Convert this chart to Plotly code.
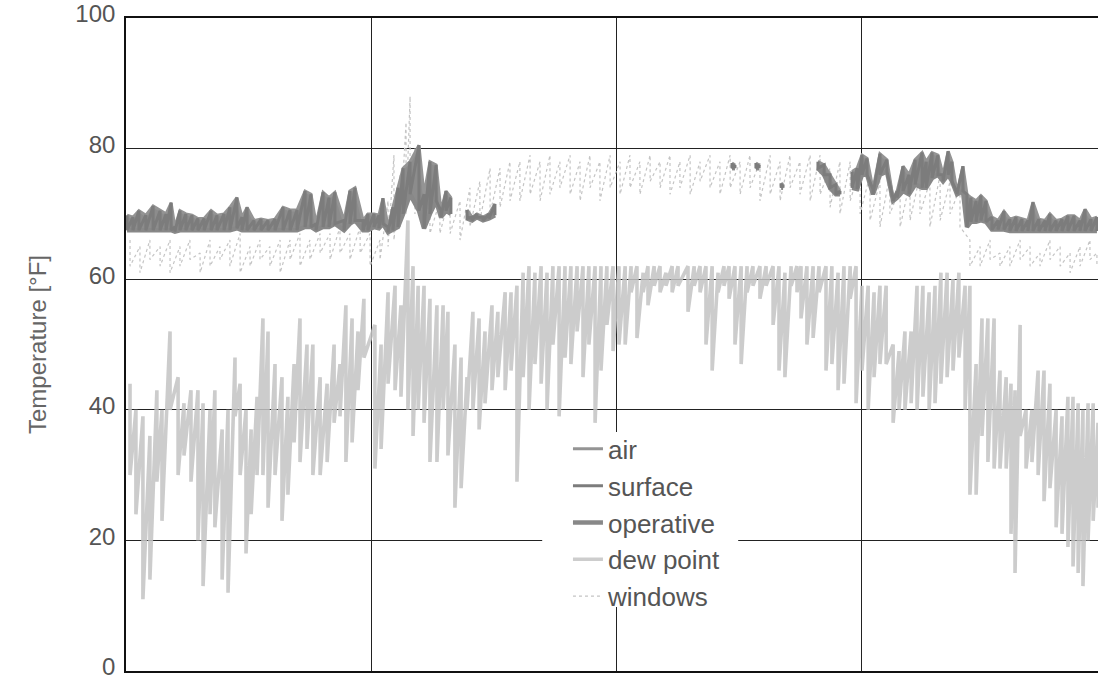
import plotly.graph_objects as go

# ---------------- data (day of year, values in degF) ----------------
dew_days = [1.5, 3.7, 6.3, 8.9, 11.5, 13.4, 16.4, 19.4, 21.6, 24.2, 26.8, 28.7, 31.3, 33.1, 35.8, 38.0,
            40.6, 42.5, 44.7, 46.6, 48.8, 51.0, 52.9, 55.5, 58.1, 60.3, 62.6, 64.8, 67.4, 69.6, 72.3,
            74.9, 77.5, 79.7, 81.9, 84.2, 86.4, 88.6,
            92.7, 95.0, 97.6, 100.2, 102.4, 105.0, 106.9, 108.8, 111.0, 113.2, 115.8, 118.1, 119.9,
            122.5, 124.8, 127.0, 129.2, 131.5, 133.7, 136.3, 138.5, 141.2, 143.4, 145.6, 147.9, 150.1,
            152.3, 154.6, 156.8, 159.0, 161.3, 163.5, 165.7, 168.0, 170.2, 172.4, 174.7, 176.9, 179.1, 181.4,
            183.6, 185.9, 188.1, 190.3, 192.6, 194.4, 196.7, 198.9, 201.1, 203.4, 205.6, 209.3, 211.6,
            213.8, 216.0, 218.3, 220.5, 222.7, 224.6, 226.8, 229.1, 231.3, 233.5, 236.1, 238.4, 241.0,
            243.2, 245.4, 247.7, 249.9, 251.4, 253.6, 255.9, 258.1, 260.7, 262.9, 265.2, 267.4, 269.7, 271.9,
            274.1, 276.4, 278.6, 280.8, 283.1, 285.7, 287.9, 290.1, 292.4, 294.6, 296.8, 299.1, 301.3,
            303.5, 305.8, 308.0, 310.2, 312.5, 314.3, 316.6, 318.8, 321.0, 323.3, 325.5, 327.8, 329.6,
            331.1, 333.0, 335.2, 337.4, 339.7, 341.9, 344.1, 346.4, 348.6, 350.8, 352.7, 354.6, 356.4,
            358.3, 360.2, 362.0]
dew_hi = [44, 40, 39, 36, 43, 40, 52, 45, 41, 43, 43, 41, 40, 43, 37, 40,
          48, 44, 40, 37, 42, 54, 52, 47, 45, 42, 47, 54, 50, 50, 45,
          44, 50, 47, 56, 54, 52, 57,
          53, 50, 58, 59, 56, 69, 62, 59, 59, 57, 56, 56, 55,
          50, 48, 45, 55, 54, 52, 56, 55, 58, 58, 59, 61, 62,
          61, 62, 61, 62, 62, 62, 62, 62, 62, 62, 62, 62, 62, 62,
          62, 62, 62, 62, 61, 62, 62, 62, 61, 62, 62, 62, 62,
          62, 62, 62, 61, 62, 62, 62, 62, 62, 62, 62, 62, 62,
          62, 61, 62, 62, 62, 62, 62, 62, 62, 62, 61, 62, 62, 62,
          59, 59, 58, 59, 59, 50, 49, 52, 52, 59, 59, 58, 59,
          61, 61, 60, 61, 59, 59, 47, 54, 54, 54, 46, 45, 44,
          43, 53, 40, 40, 46, 46, 44, 40, 39, 42, 42, 41, 40,
          41, 41, 38]
dew_lo = [30, 24, 11, 14, 29, 23, 40, 30, 33, 29, 20, 13, 24, 22, 14, 12,
          39, 30, 18, 24, 30, 30, 25, 30, 23, 27, 35, 32, 34, 30, 30,
          32, 38, 39, 32, 35, 43, 48,
          31, 34, 44, 43, 42, 40, 36, 40, 38, 32, 32, 40, 33,
          25, 28, 40, 40, 37, 41, 43, 45, 43, 46, 29, 45, 40,
          47, 44, 40, 50, 39, 48, 47, 52, 45, 50, 38, 46, 53, 49,
          50, 50, 58, 51, 58, 56, 59, 58, 59, 58, 59, 55, 59,
          58, 50, 46, 58, 59, 57, 50, 47, 58, 59, 57, 59, 53,
          46, 45, 59, 58, 54, 50, 51, 58, 46, 47, 43, 44, 57, 41,
          46, 40, 45, 47, 47, 38, 40, 40, 41, 40, 42, 40, 41,
          44, 45, 46, 48, 40, 27, 27, 36, 32, 31, 31, 31, 21,
          15, 36, 31, 32, 30, 26, 28, 22, 21, 19, 16, 15, 13,
          20, 23, 25]

band_days = [0.4, 2.6, 4.8, 7.4, 10.1, 12.7, 14.9, 16.8, 18.2, 20.1, 22.3, 24.6, 26.8, 29.1, 31.7,
             33.9, 36.5, 38.7, 41.3, 43.2, 45.1, 47.7, 50.3, 52.9, 55.5, 58.5, 61.1, 63.7, 66.7, 68.9,
             70.8, 73.4, 75.6, 77.8, 81.2, 83.4, 85.3, 88.3, 90.1, 92.4, 94.2, 95.7, 97.6, 99.4, 101.3,
             103.2, 105.8, 109.1, 111.0, 113.2, 115.5, 117.3, 119.2, 121.0, 123.7, 127.0, 128.9, 130.7,
             133.0, 135.2, 137.4, 140.0, 225.7, 226.8, 228.0, 234.6, 235.8, 237.0, 244.0, 244.7, 246.0,
             257.7, 260.0, 262.2, 264.4, 265.9, 267.0, 270.4, 272.3, 274.1, 276.0, 278.2, 280.8, 283.4,
             285.7, 287.2, 289.4, 291.6, 293.9, 296.5, 298.0, 300.2, 302.4, 304.3, 306.2, 307.6, 309.5,
             311.7, 313.2, 314.7, 316.6, 318.4, 320.3, 322.5, 324.8, 327.0, 329.2, 331.5, 333.7, 335.9,
             337.8, 340.0, 342.3, 344.1, 346.4, 348.6, 350.8, 353.1, 355.3, 357.2, 359.4, 361.6]
band_hi = [69.8, 69.5, 70.5, 69.8, 71.2, 70.5, 70.0, 71.7, 68.0, 70.5, 70.0, 69.8, 69.3, 69.3, 70.5,
           69.8, 70.0, 71.0, 72.5, 69.5, 71.0, 69.0, 69.2, 69.0, 69.2, 71.0, 70.6, 70.6, 73.5, 73.0,
           68.5, 73.3, 72.5, 73.3, 69.0, 73.5, 74.0, 69.0, 70.0, 70.0, 69.8, 72.4, 68.0, 71.0, 74.0,
           77.0, 78.0, 80.5, 73.0, 78.0, 77.5, 70.5, 73.5, 72.5, None, 70.6, 69.5, 70.0,
           69.5, 70.0, 71.5, None, 77.8, 77.5, None, 77.8, 77.5, None, 74.7, 74.5, None,
           78.0, 77.5, 76.0, 74.5, 73.5, None, 76.5, 77.0, 79.0, 78.5, 73.8, 79.2, 78.3,
           72.3, 73.5, 77.3, 76.0, 78.3, 79.4, 78.0, 79.4, 79.0, 76.0, 79.6, 78.0, 73.3,
           77.3, 73.0, 72.5, 72.0, 72.8, 72.0, 69.5, 69.0, 70.4, 69.2, 69.5, 69.2, 69.0,
           71.8, 69.2, 69.0, 70.0, 69.0, 69.2, 69.7, 69.7, 69.0, 70.7, 69.2, 69.5]
band_lo = [67.5, 67.5, 67.5, 67.5, 67.5, 67.5, 67.5, 67.5, 67.3, 67.5, 67.5, 67.5, 67.5, 67.5, 67.5,
           67.5, 67.5, 67.5, 67.8, 67.5, 67.5, 67.5, 67.5, 67.5, 67.5, 67.5, 67.5, 67.5, 68.0, 68.0,
           67.5, 68.0, 68.0, 68.5, 67.5, 68.5, 69.0, 67.5, 67.5, 68.0, 67.8, 68.5, 67.2, 67.5, 68.0,
           70.0, 73.0, 70.5, 67.8, 70.0, 72.0, 69.5, 70.5, 70.0, None, 69.3, 69.0, 69.5,
           69.0, 69.3, 69.8, None, 77.0, 77.0, None, 77.0, 77.0, None, 74.0, 74.0, None,
           77.0, 76.0, 74.0, 73.0, 73.0, None, 74.0, 73.8, 76.0, 76.0, 73.0, 76.0, 76.5,
           72.0, 72.5, 73.5, 73.0, 74.5, 74.0, 74.0, 75.5, 76.0, 75.0, 76.0, 75.0, 73.0,
           73.5, 68.0, 68.8, 68.8, 69.0, 68.8, 67.6, 67.6, 67.6, 67.4, 67.4, 67.4, 67.4,
           67.4, 67.4, 67.4, 67.4, 67.4, 67.4, 67.4, 67.4, 67.4, 67.4, 67.4, 67.4]

win_days = [1.5, 5.2, 8.9, 12.7, 16.4, 20.1, 23.8, 27.6, 31.3, 35.0, 38.7, 42.5, 46.2, 49.9, 53.6,
            57.4, 61.1, 64.8, 68.5, 72.3, 76.0, 79.7, 83.4, 87.2, 90.9, 94.6, 97.6, 99.8, 102.1,
            104.3, 105.8, 107.6, 110.2, 113.2, 116.9, 120.7, 124.4, 128.1, 131.8, 135.6, 139.3,
            143.0, 146.7, 150.5, 154.2, 157.9, 161.6, 165.4, 169.1, 172.8, 176.5, 180.3, 184.0,
            187.7, 191.4, 195.2, 198.9, 202.6, 206.3, 210.1, 213.8, 217.5, 221.2, 225.0, 228.7,
            232.4, 236.1, 239.9, 243.6, 247.3, 251.0, 254.8, 258.5, 262.2, 265.9, 269.7, 273.4,
            277.1, 280.8, 284.5, 288.3, 292.0, 295.7, 299.4, 303.2, 306.9, 310.6, 314.3, 318.1,
            321.8, 325.5, 329.2, 333.0, 336.7, 340.4, 344.1, 347.9, 351.6, 355.3, 359.0, 361.6]
win_hi = [66, 65, 66, 65, 66, 65, 66, 64, 66, 65, 66, 67, 65, 66, 65,
          66, 66, 67, 66, 67, 67, 68, 67, 68, 67, 66, 72, 79, 76,
          84, 88, 80, 75, 74, 72, 73, 72, 74, 75, 77, 77,
          78, 78, 79, 78, 79, 78, 79, 78, 79, 78, 79, 78,
          79, 78, 79, 78, 79, 78, 79, 78, 79, 78, 79, 78,
          79, 78, 79, 78, 79, 78, 79, 79, 77, 78, 78, 77,
          76, 75, 76, 74, 75, 76, 75, 76, 75, 74, 66, 65,
          66, 64, 65, 66, 65, 64, 66, 65, 64, 65, 66, 64]
win_lo = [62, 61, 63, 62, 61, 62, 63, 61, 62, 63, 62, 61, 62, 63, 62,
          61, 63, 62, 63, 64, 63, 64, 63, 64, 62, 63, 65, 66, 68,
          70, 74, 70, 68, 67, 67, 67, 66, 68, 69, 70, 71,
          72, 72, 73, 72, 73, 74, 73, 72, 74, 72, 74, 73,
          74, 73, 75, 74, 73, 74, 73, 75, 74, 73, 74, 73,
          74, 72, 73, 72, 74, 73, 72, 73, 71, 70, 72, 70,
          69, 68, 70, 68, 69, 70, 68, 69, 70, 68, 62, 62,
          63, 62, 62, 63, 62, 62, 63, 62, 61, 62, 63, 62]

y_ticks = [0, 20, 40, 60, 80, 100]
quarter = 91.25


def zigzag(days, hi, lo):
    xs, ys = [], []
    for d, h, l in zip(days, hi, lo):
        if h is None:
            xs.append(d)
            ys.append(None)
        else:
            xs += [d, d]
            ys += [h, l]
    return xs, ys


def band_polygons(days, hi, lo):
    """closed outline (hi forward, lo backward) for every gap-free run"""
    xs, ys = [], []
    seg = []
    for d, h, l in list(zip(days, hi, lo)) + [(None, None, None)]:
        if h is None:
            if seg:
                xs += [s[0] for s in seg] + [s[0] for s in reversed(seg)] + [None]
                ys += [s[1] for s in seg] + [s[2] for s in reversed(seg)] + [None]
            seg = []
        else:
            seg.append((d, h, l))
    return xs, ys


fig = go.Figure()

dx, dy = zigzag(dew_days, dew_hi, dew_lo)
fig.add_trace(go.Scatter(x=dx, y=dy, name="dew point", mode="lines", legendrank=4,
                         line=dict(color="#c4c4c4", width=3.6), opacity=0.85))

wx, wy = zigzag(win_days, win_hi, win_lo)
fig.add_trace(go.Scatter(x=wx, y=wy, name="windows", mode="lines", legendrank=5,
                         line=dict(color="#c4c4c4", width=1.2, dash="dot")))

px_, py_ = band_polygons(band_days, band_hi, band_lo)
fig.add_trace(go.Scatter(x=px_, y=py_, mode="lines", fill="toself", fillcolor="#8c8c8c",
                         line=dict(color="#8c8c8c", width=1), showlegend=False, hoverinfo="skip"))

fig.add_trace(go.Scatter(x=band_days, y=band_lo, name="operative", mode="lines", legendrank=3,
                         line=dict(color="#888888", width=4.5)))
fig.add_trace(go.Scatter(x=band_days, y=band_hi, name="air", mode="lines", legendrank=1,
                         line=dict(color="#949494", width=3)))
sx, sy = zigzag(band_days, band_hi, band_lo)
fig.add_trace(go.Scatter(x=sx, y=sy, name="surface", mode="lines", legendrank=2,
                         line=dict(color="#7c7c7c", width=3)))

# white backdrop behind the legend
fig.add_shape(type="rect", xref="x", yref="y", x0=155, x1=228, y0=9.8, y1=36.6,
              fillcolor="white", line=dict(width=0), layer="above")

fig.update_layout(
    width=1098, height=681,
    margin=dict(l=126, r=0, t=18, b=10, autoexpand=False),
    paper_bgcolor="white", plot_bgcolor="white",
    font=dict(family="Liberation Sans, Arial, sans-serif", color="#555555"),
    showlegend=True,
    legend=dict(x=0.4547, y=0.376, xanchor="left", yanchor="top", traceorder="normal",
                bgcolor="rgba(0,0,0,0)", font=dict(size=26, color="#555555"),
                tracegroupgap=0),
    xaxis=dict(range=[0, 362], showticklabels=False, ticks="", automargin=False,
               tick0=0, dtick=quarter, showgrid=True, gridcolor="#222222", gridwidth=1.2,
               showline=True, linecolor="#111111", linewidth=1.6, mirror=True, zeroline=False),
    yaxis=dict(range=[0, 100], tickvals=y_ticks, ticks="", ticklabelstandoff=4, automargin=False,
               ticklabeloverflow="allow", ticklabelshift=-4,
               tickfont=dict(size=24, color="#555555"),
               showgrid=True, gridcolor="#222222", gridwidth=1.2,
               showline=True, linecolor="#111111", linewidth=1.6, mirror=False, zeroline=False,
               title=dict(text="Temperature [°F]", font=dict(size=24, color="#666666"), standoff=22)),
)

fig.write_html("out.html", config={"displayModeBar": False},
               post_script="document.body.style.margin='0';document.body.style.overflow='hidden';")
